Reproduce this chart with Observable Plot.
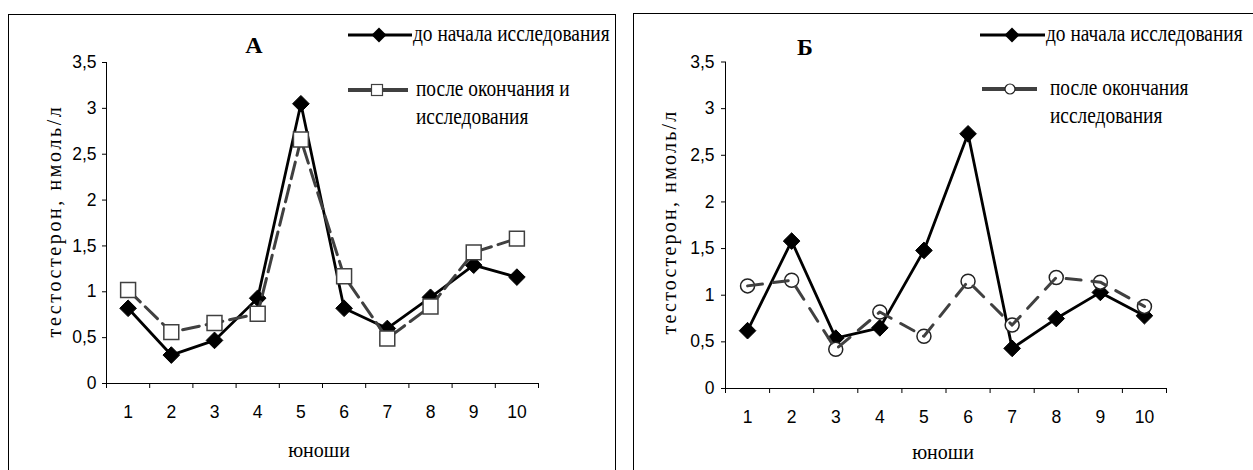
<!DOCTYPE html>
<html><head><meta charset="utf-8">
<script src="https://cdn.jsdelivr.net/npm/d3@7"></script>
<script src="https://cdn.jsdelivr.net/npm/@observablehq/plot@0.6"></script>
<style>
html,body{margin:0;padding:0;background:#fff;}
#root{position:relative;width:1253px;height:470px;overflow:hidden;}
.frame{position:absolute;border:1px solid #000;box-sizing:border-box;}
.pl{position:absolute;top:0;}
#over{position:absolute;left:0;top:0;pointer-events:none;}
</style></head>
<body><div id="root"></div>
<script>
// ---- data ----
const boys = [1, 2, 3, 4, 5, 6, 7, 8, 9, 10];
const aBefore = [0.82, 0.31, 0.47, 0.93, 3.05, 0.82, 0.60, 0.94, 1.29, 1.16];
const aAfter  = [1.02, 0.56, 0.66, 0.76, 2.66, 1.17, 0.49, 0.84, 1.43, 1.58];
const bBefore = [0.62, 1.58, 0.54, 0.65, 1.48, 2.73, 0.43, 0.75, 1.03, 0.78];
const bAfter  = [1.10, 1.16, 0.42, 0.82, 0.56, 1.15, 0.68, 1.19, 1.14, 0.88];
const yTicks = [0, 0.5, 1, 1.5, 2, 2.5, 3, 3.5];
const panelTitles = ["А", "Б"];
const legendBefore = "до начала исследования";
const legendAfterA = ["после окончания и", "исследования"];
const legendAfterB = ["после окончания", "исследования"];
const yTitle = "тестостерон, нмоль/л";
const xTitle = "юноши";

const SERIF = "'Liberation Serif', 'Times New Roman', serif";
const root = document.getElementById("root");

function frame(left, top, w, h) {
  const d = document.createElement("div");
  d.className = "frame";
  Object.assign(d.style, {left: left + "px", top: top + "px", width: w + "px", height: h + "px"});
  root.appendChild(d);
}
frame(8, 14, 608, 500);
frame(633, 13, 640, 500);

function panel(o) {
  const d1 = boys.map((b, i) => ({boy: b, v: o.before[i]}));
  const d2 = boys.map((b, i) => ({boy: b, v: o.after[i]}));
  const edges = d3.range(0.5, 11, 1);
  const afterLine = Plot.lineY(d2, {x: "boy", y: "v", stroke: "#404040", strokeWidth: 3, strokeDasharray: o.dash});
  const afterDots = o.afterSymbol === "square2"
    ? Plot.dot(d2, {x: "boy", y: "v", symbol: "square2", r: 9.5, fill: "white", stroke: "#404040", strokeWidth: 1.5})
    : Plot.dot(d2, {x: "boy", y: "v", symbol: "circle", r: 7, fill: "white", stroke: "#222", strokeWidth: 1.5});
  const p = Plot.plot({
    width: o.width, height: 470,
    marginLeft: o.mL, marginRight: o.mR, marginTop: o.mT, marginBottom: o.mB,
    style: {fontFamily: "'Liberation Sans', Arial, sans-serif", fontSize: "17.5px", background: "transparent", color: "#000"},
    x: {domain: [0.5, 10.5], axis: null},
    y: {domain: [0, 3.5], axis: null},
    marks: [
      Plot.axisY({ticks: yTicks, tickSize: 4, tickPadding: o.yPad, tickFormat: d => String(d).replace(".", ","), label: null, stroke: "#000"}),
      Plot.axisX({ticks: edges, tickSize: 5, tickFormat: () => "", label: null, stroke: "#000"}),
      Plot.axisX({ticks: boys, tickSize: 0, tickPadding: 22, tickFormat: d => String(d), label: null}),
      Plot.ruleX([0.5], {stroke: "#000", strokeWidth: 1}),
      Plot.ruleY([0], {stroke: "#000", strokeWidth: 1}),
      Plot.lineY(d1, {x: "boy", y: "v", stroke: "#000", strokeWidth: 2.8}),
      Plot.dot(d1, {x: "boy", y: "v", symbol: "diamond2", r: 7.5, fill: "#000", stroke: "#000", strokeWidth: 1}),
      ...(o.lineOver ? [afterDots, afterLine] : [afterLine, afterDots])
    ]
  });
  p.classList.add("pl");
  p.style.left = o.left + "px";
  root.appendChild(p);
}

panel({before: aBefore, after: aAfter, afterSymbol: "square2", dash: "17,7", lineOver: false,
       left: 0, width: 625, mL: 106, mR: 87, mT: 62, mB: 87, yPad: 6});
panel({before: bBefore, after: bAfter, afterSymbol: "circle", dash: "15,11", lineOver: true,
       left: 626, width: 627, mL: 99, mR: 87, mT: 61.5, mB: 82, yPad: 7});

// ---- annotations: panel titles, legends, axis titles ----
const ns = "http://www.w3.org/2000/svg";
const over = document.createElementNS(ns, "svg");
over.setAttribute("id", "over");
over.setAttribute("width", 1253);
over.setAttribute("height", 470);
root.appendChild(over);
function el(tag, attrs, txt) {
  const e = document.createElementNS(ns, tag);
  for (const k in attrs) e.setAttribute(k, attrs[k]);
  if (txt != null) {
    e.setAttribute("font-family", SERIF);
    e.setAttribute("fill", "#000");
    e.textContent = txt;
  }
  over.appendChild(e);
  return e;
}
const fs = 20;
function label(x, cy, t) {
  return el("text", {x: 0, y: 0, "font-size": fs, transform: `translate(${x},${cy + 5.5}) scale(0.97,1.12)`}, t);
}
// titles
el("text", {x: 254, y: 53, "font-size": 24, "font-weight": "bold", "text-anchor": "middle"}, panelTitles[0]);
el("text", {x: 805, y: 55, "font-size": 24, "font-weight": "bold", "text-anchor": "middle"}, panelTitles[1]);

function legend(x0, x1, y, mx, t) {
  el("line", {x1: x0, x2: x1, y1: y, y2: y, stroke: "#000", "stroke-width": 3});
  el("path", {d: `M${mx},${y - 7.5}L${mx + 7.5},${y}L${mx},${y + 7.5}L${mx - 7.5},${y}Z`, fill: "#000"});
  label(x1 + 1, y, t);
}
function legend2(x0, x1, y, mx, kind, lines, tx) {
  el("line", {x1: x0, x2: x1, y1: y, y2: y, stroke: "#404040", "stroke-width": 4});
  if (kind === "square") el("rect", {x: mx - 5.5, y: y - 5.5, width: 11, height: 11, fill: "#fff", stroke: "#404040", "stroke-width": 1.2});
  else el("circle", {cx: mx, cy: y, r: 5, fill: "#fff", stroke: "#222", "stroke-width": 1.2});
  label(tx, y, lines[0]);
  label(tx, y + 28, lines[1]);
}
legend(348, 412, 35, 379, legendBefore);
legend2(348, 408, 90, 377, "square", legendAfterA, 416);
legend(980, 1045, 35, 1012, legendBefore);
legend2(982, 1037, 89, 1010, "circle", legendAfterB, 1050);

// axis titles
function ytitle(cx, cy, ls) {
  el("text", {x: 0, y: 0, "font-size": 20, "letter-spacing": ls, "text-anchor": "middle",
              transform: `translate(${cx + 5},${cy}) rotate(-90)`}, yTitle);
}
ytitle(56, 221, 2.6);
ytitle(671, 222, 2.2);
el("text", {x: 319, y: 457, "font-size": 20, "text-anchor": "middle"}, xTitle);
el("text", {x: 943, y: 459, "font-size": 20, "text-anchor": "middle"}, xTitle);
</script>
</body></html>
